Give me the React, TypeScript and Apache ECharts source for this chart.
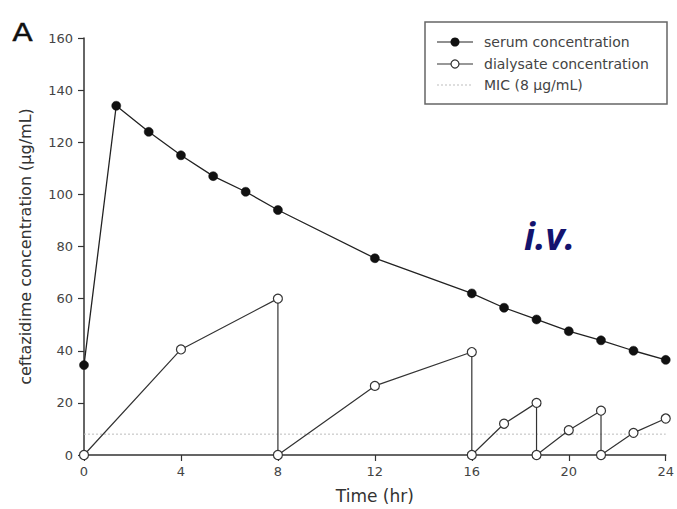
import React, { useEffect, useRef } from "react";
import * as echarts from "echarts";

// Sampling times (hr) and measured ceftazidime levels (µg/mL)
const serumTime = [0, 1.33, 2.67, 4, 5.33, 6.67, 8, 12, 16, 17.33, 18.67, 20, 21.33, 22.67, 24];
const serumConc = [34.5, 134, 124, 115, 107, 101, 94, 75.5, 62, 56.5, 52, 47.5, 44, 40, 36.5];

// Dialysate: each exchange drains back to zero at the end of a dwell
const dialysateTime = [0, 4, 8, 8, 12, 16, 16, 17.33, 18.67, 18.67, 20, 21.33, 21.33, 22.67, 24];
const dialysateConc = [0, 40.5, 60, 0, 26.5, 39.5, 0, 12, 20, 0, 9.5, 17, 0, 8.5, 14];

const micLevel = 8;
const timeRange = [0, 24];
const concRange = [0, 160];

const legendLabels = ["serum concentration", "dialysate concentration", "MIC (8 \u03bcg/mL)"];

const FONT = "'DejaVu Sans', 'Liberation Sans', Arial, sans-serif";

export default function App() {
  const ref = useRef<HTMLDivElement>(null);

  useEffect(() => {
    if (!ref.current) return;
    const chart = echarts.init(ref.current, undefined, { renderer: "svg" });

    const serumData = serumTime.map((t, i) => [t, serumConc[i]]);
    const dialysateData = dialysateTime.map((t, i) => [t, dialysateConc[i]]);
    const micData = timeRange.map((t) => [t, micLevel]);

    const legendX = 425;
    const legendY = 22;
    const rowY = [42, 64, 85];

    chart.setOption({
      animation: false,
      backgroundColor: "#ffffff",
      grid: { left: 84, right: 10, top: 38, bottom: 53 },
      xAxis: {
        type: "value",
        min: timeRange[0],
        max: timeRange[1],
        interval: 4,
        name: "Time (hr)",
        nameLocation: "middle",
        nameGap: 32,
        nameTextStyle: { fontFamily: FONT, fontSize: 17, color: "#333" },
        axisLine: { show: true, lineStyle: { color: "#333", width: 1.5 } },
        axisTick: { show: true, length: 6, lineStyle: { color: "#333", width: 1.2 } },
        axisLabel: { fontFamily: FONT, fontSize: 13, color: "#444", margin: 10 },
        splitLine: { show: false },
      },
      yAxis: {
        type: "value",
        min: concRange[0],
        max: concRange[1],
        interval: 20,
        name: "ceftazidime concentration (\u03bcg/mL)",
        nameLocation: "middle",
        nameGap: 51,
        nameTextStyle: { fontFamily: FONT, fontSize: 16, color: "#333" },
        axisLine: { show: true, lineStyle: { color: "#333", width: 1.5 } },
        axisTick: { show: true, length: 6, lineStyle: { color: "#333", width: 1.2 } },
        axisLabel: { fontFamily: FONT, fontSize: 13, color: "#444", margin: 11 },
        splitLine: { show: false },
      },
      series: [
        {
          name: "MIC",
          type: "line",
          data: micData,
          symbol: "none",
          lineStyle: { color: "#bdbdbd", width: 1, type: [2, 2] },
          z: 1,
        },
        {
          name: "dialysate concentration",
          type: "line",
          data: dialysateData,
          symbol: "circle",
          symbolSize: 9,
          showAllSymbol: true,
          itemStyle: { color: "#ffffff", borderColor: "#333", borderWidth: 1.2 },
          lineStyle: { color: "#333", width: 1.2 },
          z: 3,
        },
        {
          name: "serum concentration",
          type: "line",
          data: serumData,
          symbol: "circle",
          symbolSize: 9,
          showAllSymbol: true,
          itemStyle: { color: "#111", borderColor: "#111", borderWidth: 0.5 },
          lineStyle: { color: "#222", width: 1.3 },
          z: 4,
        },
      ],
      graphic: [
        {
          type: "text",
          left: 12,
          top: 20,
          scaleX: 1.25,
          style: { text: "A", font: `24px ${FONT}`, fill: "#111", stroke: "#111", lineWidth: 0.4 },
        },
        {
          type: "text",
          x: 524,
          y: 235,
          style: {
            text: "i.v.",
            font: `italic bold 37px 'Open Sans', 'DejaVu Sans', sans-serif`,
            fill: "#13136e",
            verticalAlign: "middle",
          },
        },
        {
          type: "group",
          children: [
            {
              type: "rect",
              shape: { x: legendX, y: legendY, width: 242, height: 82 },
              style: { fill: "#fff", stroke: "#666", lineWidth: 1.5 },
            },
            {
              type: "line",
              shape: { x1: 437, y1: rowY[0], x2: 473, y2: rowY[0] },
              style: { stroke: "#222", lineWidth: 1.2 },
            },
            {
              type: "circle",
              shape: { cx: 455, cy: rowY[0], r: 4.5 },
              style: { fill: "#111" },
            },
            {
              type: "line",
              shape: { x1: 437, y1: rowY[1], x2: 473, y2: rowY[1] },
              style: { stroke: "#333", lineWidth: 1.2 },
            },
            {
              type: "circle",
              shape: { cx: 455, cy: rowY[1], r: 4 },
              style: { fill: "#fff", stroke: "#333", lineWidth: 1.2 },
            },
            {
              type: "line",
              shape: { x1: 437, y1: rowY[2], x2: 473, y2: rowY[2] },
              style: { stroke: "#bdbdbd", lineWidth: 1, lineDash: [2, 2] },
            },
            ...legendLabels.map((label, i) => ({
              type: "text",
              x: 484,
              y: rowY[i],
              style: {
                text: label,
                font: `14px ${FONT}`,
                fill: "#444",
                verticalAlign: "middle",
              },
            })),
          ],
        },
      ],
    });

    return () => chart.dispose();
  }, []);

  return (
    <div
      ref={ref}
      style={{ position: "fixed", left: 0, top: 0, width: 677, height: 509 }}
    />
  );
}
